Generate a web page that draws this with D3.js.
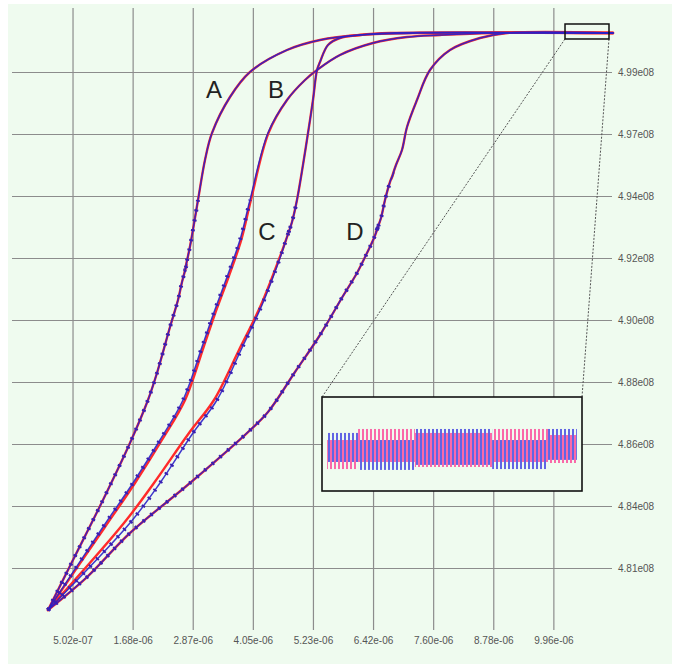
<!DOCTYPE html>
<html><head><meta charset="utf-8">
<script src="https://cdn.jsdelivr.net/npm/d3@7"></script>
<style>
html,body{margin:0;padding:0;background:#fff;}
svg{display:block;}
text{font-family:"Liberation Sans",Arial,sans-serif;}
</style></head><body>
<svg id="chart" width="678" height="664"></svg>
<script>
// time in microseconds, value in units of 1e8
const xTickValues = [0.502,1.684,2.866,4.048,5.230,6.412,7.594,8.776,9.958];
const xTickLabels = ["5.02e-07","1.68e-06","2.87e-06","4.05e-06","5.23e-06","6.42e-06","7.60e-06","8.78e-06","9.96e-06"];
const yTickValues = [4.8125,4.835,4.8575,4.88,4.9025,4.925,4.9475,4.97,4.9925];
const yTickLabels = ["4.81e08","4.84e08","4.86e08","4.88e08","4.90e08","4.92e08","4.94e08","4.97e08","4.99e08"];

const curveA = [[0.02,4.79726],[0.511,4.81540],[1.101,4.83718],[1.632,4.85786],[1.986,4.87347],[2.163,4.88327],[2.419,4.89996],[2.576,4.90976],[2.655,4.91629],[2.75,4.92282],[2.714,4.92065],[2.81,4.92900],[2.970,4.94605],[3.107,4.96056],[3.245,4.97036],[3.599,4.98343],[3.992,4.99250],[4.720,5.00048],[5.369,5.00411],[6.155,5.00593],[7.335,5.00665],[11.131,5.00665]];
const curveBBlue = [[0.02,4.79726],[1.101,4.82738],[1.691,4.84335],[2.222,4.85895],[2.675,4.87347],[3.048,4.89270],[3.265,4.90431],[3.540,4.91810],[3.795,4.93153],[3.992,4.94605],[4.346,4.97036],[4.720,4.98234],[5.074,4.98960],[5.310,4.99322],[5.762,4.99867],[6.411,5.00302],[7.080,5.00520],[7.729,5.00593],[8.771,5.00665],[11.131,5.00665]];
const curveBRed = [[0.02,4.79726],[1.14,4.82738],[1.73,4.84335],[2.26,4.85895],[2.715,4.87347],[3.08,4.89270],[3.295,4.90431],[3.57,4.91810],[3.82,4.93153],[4.01,4.94605],[4.355,4.97036],[4.720,4.98234],[5.074,4.98960],[5.310,4.99322],[5.762,4.99867],[6.411,5.00302],[7.080,5.00520],[7.729,5.00593],[8.771,5.00665],[11.131,5.00665]];
const curveCBlue = [[0.02,4.79726],[1.632,4.82883],[2.222,4.84335],[2.871,4.86149],[3.343,4.87347],[3.815,4.89161],[4.228,4.90794],[4.582,4.92500],[4.700,4.93153],[4.779,4.93589],[4.739,4.93371],[4.818,4.93806],[4.916,4.94605],[5.034,4.95875],[5.133,4.97036],[5.231,4.98234],[5.310,4.99322],[5.369,4.99613],[5.526,5.00230],[5.762,5.00484],[6.155,5.00593],[6.745,5.00665],[11.131,5.00665]];
const curveCRed = [[0.02,4.79726],[1.514,4.82883],[2.104,4.84335],[2.793,4.86149],[3.284,4.87347],[3.776,4.89161],[4.208,4.90794],[4.572,4.92500],[4.700,4.93153],[4.818,4.93806],[4.916,4.94605],[5.034,4.95875],[5.133,4.97036],[5.231,4.98234],[5.310,4.99322],[5.369,4.99613],[5.526,5.00230],[5.762,5.00484],[6.155,5.00593],[6.745,5.00665],[11.131,5.00665]];
const curveD = [[0.02,4.79726],[0.787,4.80923],[1.632,4.82520],[2.812,4.84335],[3.933,4.86149],[4.346,4.86911],[4.877,4.88363],[5.369,4.89706],[5.821,4.91121],[6.096,4.91956],[6.293,4.92681],[6.431,4.93226],[6.529,4.93734],[6.470,4.93443],[6.568,4.93952],[6.647,4.94605],[6.745,4.95258],[6.824,4.95621],[6.765,4.95330],[6.863,4.95875],[6.981,4.96419],[7.080,4.97254],[7.276,4.98234],[7.532,4.99322],[7.925,5.00048],[8.515,5.00484],[9.046,5.00665],[11.131,5.00665]];

const curveLabels = ["A","B","C","D"];
const curveLabelPos = [[3.284,4.98306],[4.503,4.98306],[4.326,4.93153],[6.057,4.93153]];

// zoom window (time µs, value 1e8) and the zoomed signal envelopes [t0, t1, low, high]
const zoomT = [10.187, 11.052];
const zoomV = [5.00448, 5.00992];
const insetBlue = [[10.204,10.307,5.00616,5.00784],[10.307,10.496,5.00570,5.00743],[10.496,10.753,5.00599,5.00807],[10.753,10.939,5.00575,5.00743],[10.939,11.035,5.00628,5.00807]];
const insetPink = [[10.204,10.307,5.00575,5.00743],[10.307,10.496,5.00616,5.00807],[10.496,10.753,5.00587,5.00784],[10.753,10.939,5.00616,5.00807],[10.939,11.035,5.00610,5.00772]];

const svg = d3.select("#chart");
const x = d3.scaleLinear().domain([0,10]).range([47,555.5]);
const y = d3.scaleLinear().domain([4.8125,4.9925]).range([568,72]);
const font = '"Liberation Sans",Arial,sans-serif';

svg.append("rect").attr("x",8).attr("y",4).attr("width",664).attr("height",660).attr("fill","#effbef");

const defs = svg.append("defs");
function stripes(id,color,offset){
  const p = defs.append("pattern").attr("id",id).attr("patternUnits","userSpaceOnUse").attr("width",4).attr("height",4);
  p.append("rect").attr("x",offset).attr("y",0).attr("width",1.4).attr("height",4).attr("fill",color);
}
stripes("blueStripes","#2424e0",0.3);
stripes("pinkStripes","#ff2a8c",2.3);

// grids
const gx = svg.append("g").attr("transform","translate(0,630)")
  .call(d3.axisBottom(x).tickValues(xTickValues).tickFormat((d,i)=>xTickLabels[i]).tickSize(-622).tickPadding(7));
gx.select(".domain").remove();
gx.selectAll(".tick line").attr("stroke","#8c8c8c").attr("stroke-width",1.2);
gx.selectAll(".tick text").attr("fill","#555").style("font-size","10px").style("font-family",font);

const gy = svg.append("g").attr("transform","translate(612,0)")
  .call(d3.axisRight(y).tickValues(yTickValues).tickFormat((d,i)=>yTickLabels[i]).tickSize(-600).tickPadding(6));
gy.select(".domain").remove();
gy.selectAll(".tick line").attr("stroke","#8c8c8c").attr("stroke-width",1.2);
gy.selectAll(".tick text").attr("fill","#555").style("font-size","10px").style("font-family",font);

// curves
const line = d3.line().x(d=>x(d[0])).y(d=>y(d[1])).curve(d3.curveCatmullRom.alpha(0.5));
const pairs = [[curveA,curveA],[curveBRed,curveBBlue],[curveCRed,curveCBlue],[curveD,curveD]];
const gc = svg.append("g").attr("fill","none").attr("stroke-linejoin","round").attr("stroke-linecap","round");
pairs.forEach(([red,blue])=>{
  gc.append("path").attr("d",line(red)).attr("stroke","#ff2a2a").attr("stroke-width",2.4);
});
pairs.forEach(([red,blue])=>{
  gc.append("path").attr("d",line(blue)).attr("stroke","#2a20c8").attr("stroke-width",1.5).attr("stroke-opacity",0.9);
  const cut = blue.findIndex(d=>d[1]>4.955);
  gc.append("path").attr("d",line(blue.slice(0,cut))).attr("stroke","#3a1fb0")
    .attr("stroke-width",4).attr("stroke-dasharray","2,8").attr("stroke-linecap","butt");
});

// curve labels
svg.append("g").selectAll("text").data(curveLabels).join("text")
  .attr("x",(d,i)=>x(curveLabelPos[i][0])).attr("y",(d,i)=>y(curveLabelPos[i][1]))
  .attr("text-anchor","middle").attr("fill","#222").style("font-size","24px").style("font-family",font)
  .text(d=>d);

// zoom box and inset
const bx0 = x(zoomT[0]), bx1 = x(zoomT[1]), by0 = y(zoomV[1]), by1 = y(zoomV[0]);
const inset = {x:322, y:397, w:260, h:94};
svg.append("line").attr("x1",bx0).attr("y1",by1).attr("x2",inset.x).attr("y2",inset.y)
  .attr("stroke","#555").attr("stroke-width",1).attr("stroke-dasharray","2,1.5");
svg.append("line").attr("x1",bx1).attr("y1",by1).attr("x2",inset.x+inset.w).attr("y2",inset.y)
  .attr("stroke","#555").attr("stroke-width",1).attr("stroke-dasharray","2,1.5");
svg.append("rect").attr("x",bx0).attr("y",by0).attr("width",bx1-bx0).attr("height",by1-by0)
  .attr("fill","none").attr("stroke","#111").attr("stroke-width",1.5);

svg.append("rect").attr("x",inset.x).attr("y",inset.y).attr("width",inset.w).attr("height",inset.h)
  .attr("fill","#effbef").attr("stroke","#111").attr("stroke-width",1.6);
const ix = d3.scaleLinear().domain(zoomT).range([inset.x, inset.x+inset.w]);
const iy = d3.scaleLinear().domain(zoomV).range([inset.y+inset.h, inset.y]);
const gi = svg.append("g");
gi.selectAll("rect.b").data(insetBlue).join("rect").attr("class","b")
  .attr("x",d=>ix(d[0])).attr("width",d=>ix(d[1])-ix(d[0]))
  .attr("y",d=>iy(d[3])).attr("height",d=>iy(d[2])-iy(d[3])).attr("fill","url(#blueStripes)");
gi.selectAll("rect.p").data(insetPink).join("rect").attr("class","p")
  .attr("x",d=>ix(d[0])).attr("width",d=>ix(d[1])-ix(d[0]))
  .attr("y",d=>iy(d[3])).attr("height",d=>iy(d[2])-iy(d[3])).attr("fill","url(#pinkStripes)");
</script>
</body></html>
